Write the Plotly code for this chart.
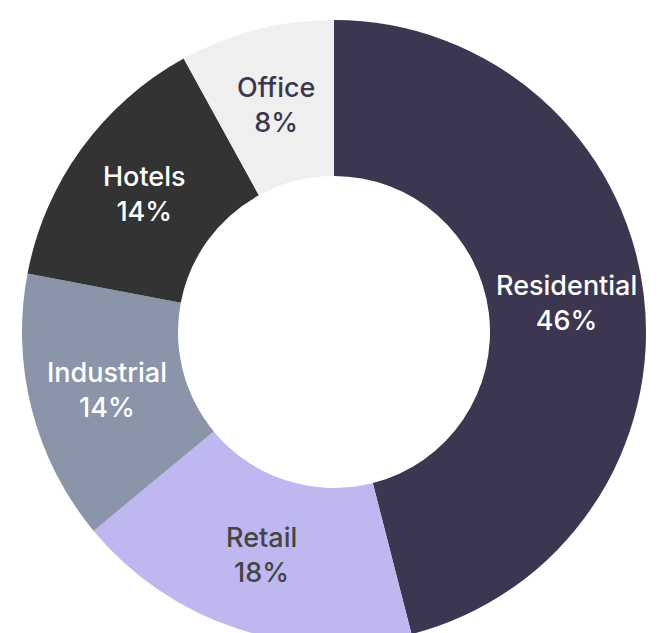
import math
import plotly.graph_objects as go

# 부문별 비중 (%)
sectors = ["Residential", "Retail", "Industrial", "Hotels", "Office"]
shares = [46, 18, 14, 14, 8]

COLORS = {
    "Residential": "#3d3651",
    "Retail": "#bfb8f0",
    "Industrial": "#8a95aa",
    "Hotels": "#333333",
    "Office": "#efefef",
}
TEXT_COLORS = {
    "Residential": "#ffffff",
    "Retail": "#444444",
    "Industrial": "#ffffff",
    "Hotels": "#ffffff",
    "Office": "#3d3651",
}

HOLE = 0.5
WIDTH, HEIGHT = 650, 636
MARGIN = dict(l=14, r=12, t=12, b=0)  # body 기본 여백(8px) 감안

fig = go.Figure()

fig.add_trace(go.Pie(
    labels=sectors,
    values=shares,
    hole=HOLE,
    sort=False,
    direction="clockwise",
    rotation=0,
    marker=dict(colors=[COLORS[s] for s in sectors], line=dict(width=0)),
    textinfo="none",
    showlegend=False,
    hoverinfo="label+percent",
))

# 라벨: 각 조각의 중간 각도, 도넛 두께의 중앙에 배치
plot_w = WIDTH - MARGIN["l"] - MARGIN["r"]
plot_h = HEIGHT - MARGIN["t"] - MARGIN["b"]
radius = min(plot_w, plot_h) / 2
label_r = radius * (1 + HOLE) / 2
total = sum(shares)
cum = 0
for name, val in zip(sectors, shares):
    mid = (cum + val / 2) / total * 2 * math.pi
    cum += val
    fig.add_annotation(
        x=0.5 + label_r * math.sin(mid) / plot_w,
        y=0.5 + label_r * math.cos(mid) / plot_h,
        xref="paper", yref="paper",
        xanchor="center", yanchor="middle",
        text=f"{name}<br>{round(val / total * 100)}%",
        showarrow=False,
        align="center",
        font=dict(family="Inter", size=27, weight=500, color=TEXT_COLORS[name]),
    )

fig.update_layout(
    width=WIDTH,
    height=HEIGHT,
    margin=MARGIN,
    paper_bgcolor="#ffffff",
    plot_bgcolor="#ffffff",
)

fig.write_html("out.html")
